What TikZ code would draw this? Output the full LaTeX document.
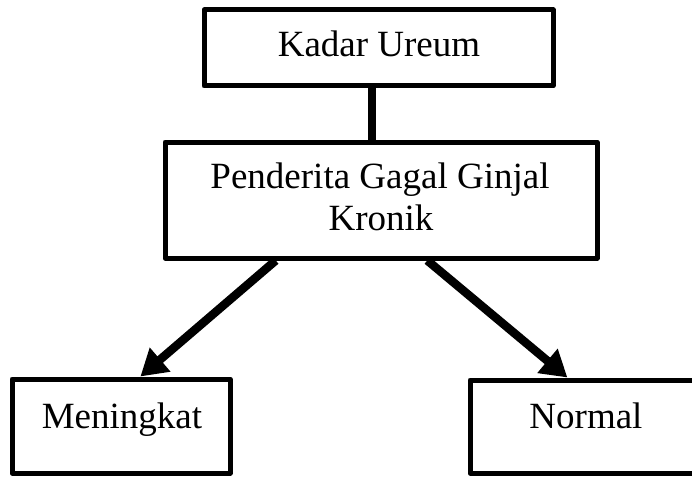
\documentclass[tikz,border=0pt]{standalone}
\usepackage{fontspec}
\setmainfont{Liberation Serif}
\usetikzlibrary{arrows.meta,calc}
\begin{document}
\begin{tikzpicture}[x=1pt,y=-1pt,
  box/.style={draw,line width=5pt,line join=round,inner sep=0pt},
  lbl/.style={font=\fontsize{37}{42}\selectfont,anchor=base,inner sep=0pt},
  conn/.style={line width=8pt},
  arr/.style={line width=8.5pt,-{Triangle[length=26pt,width=30pt]}}]
\useasboundingbox (0,0) rectangle (692,476);
\fill[white] (0,0) rectangle (692,476);
% boxes
\node[box,minimum width=349pt,minimum height=76pt] (top) at (378.5,48) {};
\node[box,minimum width=432pt,minimum height=116pt] (mid) at (381,200) {};
\node[box,minimum width=218pt,minimum height=94pt] (men) at (121,426) {};
\node[box,minimum width=246pt,minimum height=93pt] (nor) at (593,426.5) {};
% labels
\node[lbl] (t1) at (379,57) {Kadar Ureum};
\node[lbl] (t2) at (380,188) {Penderita Gagal Ginjal};
\node[lbl] (t3) at (381,230) {Kronik};
\node[lbl] (t4) at (122,428) {Meningkat};
\node[lbl] (t5) at (586,428) {Normal};
% connectors
\coordinate (c1) at ($(top.south west)!0.482!(top.south east)$);
\draw[conn] (c1) -- (c1 |- mid.north);
\coordinate (a1) at ($(mid.south west)!0.259!(mid.south east)$);
\coordinate (b1) at ($(men.north west)!0.587!(men.north east)$);
\coordinate (a2) at ($(mid.south west)!0.606!(mid.south east)$);
\coordinate (b2) at ($(nor.north west)!0.398!(nor.north east)$);
\draw[arr] (a1) -- (b1);
\draw[arr] (a2) -- (b2);
\end{tikzpicture}
\end{document}
